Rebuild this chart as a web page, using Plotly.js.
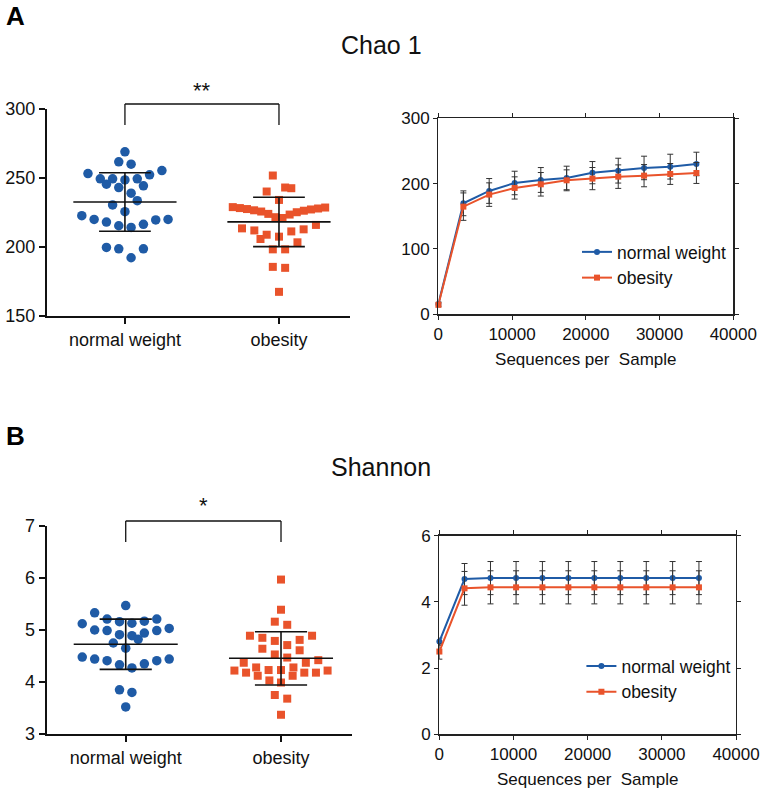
<!DOCTYPE html>
<html>
<head>
<meta charset="utf-8">
<script src="https://cdn.plot.ly/plotly-3.0.1.min.js"></script>
<style>
  html, body { margin: 0; padding: 0; background: #fff; }
  #chart { width: 764px; height: 792px; }
</style>
</head>
<body>
<div id="chart"></div>
<script>
// Chao 1 per subject
const chaoNormal = [269.0, 261.7, 260.0, 255.4, 252.3, 253.2, 249.4, 248.6, 249.4, 249.4,
  245.5, 244.3, 243.1, 239.0, 233.6, 230.5, 225.6, 222.7, 220.0, 218.1,
  215.4, 214.2, 216.4, 219.6, 220.0, 198.7, 198.7, 199.7, 192.2];
const chaoObesity = [251.8, 243.1, 240.2, 242.6, 234.1,
  221.0, 221.6, 223.5, 224.0, 225.2, 225.7, 226.3, 226.6, 227.2, 227.5, 227.9, 228.2, 228.6, 228.9,
  213.5, 212.0, 208.9, 207.5, 211.3, 212.8, 216.0, 205.8, 203.4, 198.3, 198.3,
  185.6, 184.9, 167.5];

// Shannon per subject
const shannonNormal = [5.47, 5.33, 5.21, 5.16, 5.12, 5.13, 5.21, 5.00, 4.99, 4.89,
  4.91, 4.94, 4.99, 5.03, 4.82, 4.75, 4.65, 4.44, 4.41, 4.35,
  4.27, 4.33, 4.41, 4.44, 4.48, 3.85, 3.80, 3.52, 5.17];
const shannonObesity = [5.97, 5.39, 5.16, 5.10, 4.89, 4.81, 4.79, 4.85, 4.89, 4.71,
  4.64, 4.61, 4.53, 4.47, 4.37, 4.37, 4.42, 4.22, 4.18, 4.18,
  4.28, 4.12, 4.23, 4.23, 4.28, 4.12, 4.18, 4.22, 3.99, 4.03,
  3.75, 3.68, 3.37];

// rarefaction curves
const seqDepth = [10, 3400, 6900, 10350, 13900, 17400, 20900, 24400, 27900, 31450, 35000];
const chaoCurveNormal = [15.8, 169.9, 188.8, 201.0, 205.6, 208.7, 216.8, 219.9, 224.0, 226.0, 230.1];
const chaoCurveNormalErr = [3, 19, 19, 18, 19, 18, 17, 19, 18, 19, 18];
const chaoCurveObesity = [14.5, 164.8, 183.2, 193.4, 199.0, 205.1, 207.7, 210.7, 212.2, 214.8, 216.3];
const chaoCurveObesityErr = [3, 21, 18, 17, 18, 16, 17, 18, 17, 16, 16];
const shannonCurveNormal = [2.80, 4.69, 4.72, 4.72, 4.72, 4.72, 4.72, 4.72, 4.72, 4.72, 4.72];
const shannonCurveNormalErr = [0.11, 0.47, 0.5, 0.5, 0.5, 0.5, 0.5, 0.5, 0.5, 0.5, 0.5];
const shannonCurveObesity = [2.50, 4.41, 4.44, 4.44, 4.44, 4.44, 4.44, 4.44, 4.44, 4.44, 4.44];
const shannonCurveObesityErr = [0.23, 0.51, 0.5, 0.5, 0.5, 0.5, 0.5, 0.5, 0.5, 0.5, 0.5];

const groups = ['normal weight', 'obesity'];

const BLUE = '#1f5ba6';
const ORANGE = '#e9532b';
const FONT = 'Liberation Sans, Arial, sans-serif';

// prism-like scatter dot layout: bin into rows, spread each row around the center
function swarm(vals, pxPerUnit, rowPx, step, maxHalf) {
  const idx = vals.map((v, i) => i).sort((a, b) => vals[a] - vals[b]);
  const off = new Array(vals.length).fill(0);
  let row = [];
  const flush = () => {
    const n = row.length;
    if (!n) return;
    const sp = n > 1 ? Math.min(step, 2 * maxHalf / (n - 1)) : 0;
    row.forEach((i, k) => {
      let pos;
      if (n % 2) pos = k === 0 ? 0 : Math.ceil(k / 2) * (k % 2 ? -1 : 1);
      else pos = (Math.floor(k / 2) + 0.5) * (k % 2 ? -1 : 1);
      off[i] = pos * sp;
    });
    row = [];
  };
  let start = null;
  idx.forEach(i => {
    if (start === null || (vals[i] - start) * pxPerUnit > rowPx) {
      flush();
      start = vals[i];
    }
    row.push(i);
  });
  flush();
  return off;
}

function meanSd(vals) {
  const m = vals.reduce((s, v) => s + v, 0) / vals.length;
  const sd = Math.sqrt(vals.reduce((s, v) => s + (v - m) ** 2, 0) / (vals.length - 1));
  return [m, sd];
}

function dotTraces(vals, center, color, symbol, size, pxPerUnit, xa, ya) {
  const off = swarm(vals, pxPerUnit, 12.2, 0.08, 0.3);
  const [m, sd] = meanSd(vals);
  const pts = {
    x: off.map(o => center + o), y: vals, xaxis: xa, yaxis: ya,
    type: 'scatter', mode: 'markers', showlegend: false, hoverinfo: 'y',
    cliponaxis: false,
    marker: { color: color, symbol: symbol, size: size, line: { width: 0 } }
  };
  const bars = {
    x: [center - 0.335, center + 0.335, null,
        center - 0.168, center + 0.168, null,
        center, center, null,
        center - 0.168, center + 0.168],
    y: [m, m, null, m + sd, m + sd, null, m + sd, m - sd, null, m - sd, m - sd],
    xaxis: xa, yaxis: ya, type: 'scatter', mode: 'lines', showlegend: false,
    hoverinfo: 'skip', line: { color: '#111', width: 1.6 }
  };
  return [pts, bars];
}

function curveTraces(yNormal, errNormal, yObesity, errObesity, xa, ya, legendName) {
  return [
    {
      x: seqDepth, y: yNormal, xaxis: xa, yaxis: ya, name: groups[0], legend: legendName,
      type: 'scatter', mode: 'lines+markers', cliponaxis: false,
      line: { color: BLUE, width: 2 }, marker: { color: BLUE, symbol: 'circle', size: 6 },
      error_y: { type: 'data', array: errNormal, color: '#333', thickness: 1, width: 3 }
    },
    {
      x: seqDepth, y: yObesity, xaxis: xa, yaxis: ya, name: groups[1], legend: legendName,
      type: 'scatter', mode: 'lines+markers', cliponaxis: false,
      line: { color: ORANGE, width: 2 }, marker: { color: ORANGE, symbol: 'square', size: 6 },
      error_y: { type: 'data', array: errObesity, color: '#333', thickness: 1, width: 3 }
    }
  ];
}

const data = [
  ...dotTraces(chaoNormal, 0, BLUE, 'circle', 9.5, 207 / 150, 'x', 'y'),
  ...dotTraces(chaoObesity, 1, ORANGE, 'square', 8, 207 / 150, 'x', 'y'),
  ...curveTraces(chaoCurveNormal, chaoCurveNormalErr, chaoCurveObesity, chaoCurveObesityErr, 'x2', 'y2', 'legend'),
  ...dotTraces(shannonNormal, 0, BLUE, 'circle', 9.5, 52, 'x3', 'y3'),
  ...dotTraces(shannonObesity, 1, ORANGE, 'square', 8, 52, 'x3', 'y3'),
  ...curveTraces(shannonCurveNormal, shannonCurveNormalErr, shannonCurveObesity, shannonCurveObesityErr, 'x4', 'y4', 'legend2')
];

const tickFont = { family: FONT, size: 18, color: '#111' };
const curveFont = { family: FONT, size: 17, color: '#111' };

function dotX(domain, range, anchor) {
  return {
    domain: domain, range: range, anchor: anchor, tickmode: 'array',
    tickvals: [0, 1], ticktext: groups, showgrid: false, zeroline: false,
    showline: true, linecolor: '#111', linewidth: 2, ticks: 'outside',
    ticklen: 6, tickwidth: 2, tickcolor: '#111', tickfont: tickFont
  };
}
function dotY(domain, range, dtick, anchor) {
  return {
    domain: domain, range: range, dtick: dtick, anchor: anchor,
    showgrid: false, zeroline: false, showline: true, linecolor: '#111',
    linewidth: 2, ticks: 'outside', ticklen: 6, tickwidth: 2, tickcolor: '#111',
    tickfont: tickFont
  };
}
function curveX(domain, anchor) {
  return {
    domain: domain, range: [0, 40000], dtick: 10000, tickformat: 'd', anchor: anchor,
    showgrid: false, zeroline: false, showline: true, mirror: 'ticks',
    linecolor: '#222', linewidth: 1.3, ticks: 'outside', ticklen: 4,
    tickcolor: '#222', tickfont: curveFont,
    title: { text: 'Sequences per&nbsp; Sample', font: curveFont, standoff: 10 }
  };
}
function curveY(domain, range, dtick, anchor) {
  return {
    domain: domain, range: range, dtick: dtick, anchor: anchor,
    showgrid: false, zeroline: false, showline: true, mirror: 'ticks',
    linecolor: '#222', linewidth: 1.3, ticks: 'outside', ticklen: 4,
    tickcolor: '#222', tickfont: curveFont
  };
}

const H = 792;
const py = p => 1 - p / H;

const bracket = (xref, top, bottom) => [
  { type: 'line', xref: xref, yref: 'paper', x0: 0, x1: 0, y0: py(bottom), y1: py(top), line: { color: '#111', width: 1.3 } },
  { type: 'line', xref: xref, yref: 'paper', x0: 0, x1: 1, y0: py(top), y1: py(top), line: { color: '#111', width: 1.3 } },
  { type: 'line', xref: xref, yref: 'paper', x0: 1, x1: 1, y0: py(top), y1: py(bottom), line: { color: '#111', width: 1.3 } }
];

const label = (text, x, y, size, xref) => ({
  text: text, xref: xref || 'paper', yref: 'paper', x: x, y: py(y),
  xanchor: xref ? 'center' : (size > 25 ? 'left' : 'center'), yanchor: 'middle',
  showarrow: false, font: { family: FONT, size: size, color: '#111' }
});

const layout = {
  width: 764, height: 792,
  margin: { l: 0, r: 0, t: 0, b: 0 },
  paper_bgcolor: '#fff', plot_bgcolor: 'rgba(0,0,0,0)',
  font: { family: FONT, color: '#111' },
  xaxis: dotX([0.0615, 0.4581], [-0.506, 1.461], 'y'),
  yaxis: dotY([py(316), py(109)], [150, 300], 50, 'x'),
  xaxis2: curveX([0.5737, 0.9598], 'y2'),
  yaxis2: curveY([py(314.3), py(118.3)], [0, 300], 100, 'x2'),
  xaxis3: dotX([0.0611, 0.4607], [-0.509, 1.457], 'y3'),
  yaxis3: dotY([py(734), py(526)], [3, 7], 1, 'x3'),
  xaxis4: curveX([0.575, 0.9634], 'y4'),
  yaxis4: curveY([py(734.3), py(535.7)], [0, 6], 2, 'x4'),
  legend: {
    x: 0.7552, y: py(234), xanchor: 'left', yanchor: 'top',
    bgcolor: 'rgba(0,0,0,0)', font: { family: FONT, size: 17.5, color: '#111' }
  },
  legend2: {
    x: 0.761, y: py(648), xanchor: 'left', yanchor: 'top',
    bgcolor: 'rgba(0,0,0,0)', font: { family: FONT, size: 17.5, color: '#111' }
  },
  shapes: [...bracket('x', 104, 125), ...bracket('x3', 521, 542)],
  annotations: [
    { ...label('<b>A</b>', 4 / 764, 16, 26), font: { family: FONT, size: 26, color: '#000' } },
    { ...label('<b>B</b>', 4 / 764, 436, 26), font: { family: FONT, size: 26, color: '#000' } },
    label('Chao 1', 381 / 764, 45, 25),
    label('Shannon', 381 / 764, 467, 25),
    label('**', 0.5, 90, 22, 'x'),
    label('*', 0.5, 506, 22, 'x3')
  ]
};

Plotly.newPlot('chart', data, layout, { staticPlot: true });
</script>
</body>
</html>
